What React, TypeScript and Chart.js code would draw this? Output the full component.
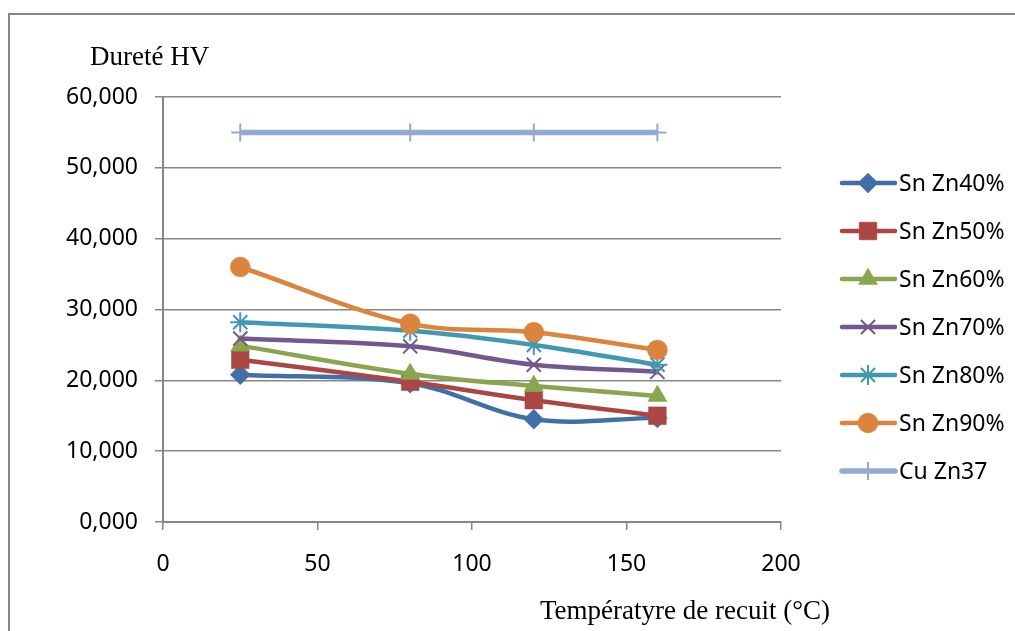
import React, { useEffect, useRef } from 'react';
import { Chart, registerables } from 'chart.js';
import { drawPoint } from 'chart.js/helpers';

Chart.register(...registerables);

// ---- Data ----
const temperatures = [25, 80, 120, 160];
const snZn40 = [20.8, 19.6, 14.5, 14.7];
const snZn50 = [22.9, 19.8, 17.2, 15.0];
const snZn60 = [24.9, 20.9, 19.2, 17.8];
const snZn70 = [25.9, 24.8, 22.2, 21.2];
const snZn80 = [28.2, 27.0, 25.0, 22.2];
const snZn90 = [36.0, 28.0, 26.8, 24.3];
const cuZn37 = [55, 55, 55, 55];

const seriesNames = ['Sn Zn40%', 'Sn Zn50%', 'Sn Zn60%', 'Sn Zn70%', 'Sn Zn80%', 'Sn Zn90%', 'Cu Zn37'];
const seriesValues = [snZn40, snZn50, snZn60, snZn70, snZn80, snZn90, cuZn37];

const xTicks = [0, 50, 100, 150, 200];
const xTickLabels = ['0', '50', '100', '150', '200'];
const yTicks = [0, 10, 20, 30, 40, 50, 60];
const yTickLabels = ['0,000', '10,000', '20,000', '30,000', '40,000', '50,000', '60,000'];

const yTitle = 'Dureté HV';
const xTitle = 'Températyre de recuit (°C)';

// ---- Styles ----
const colors = ['#4170A8', '#AA4643', '#89A54E', '#71588F', '#4198AF', '#DB843D', '#93AAD2'];
const pointStyles = ['rectRot', 'rect', 'triangle', 'crossRot', 'star', 'circle', 'cross'];
const pointRadii = [10, 12.5, 11, 10, 10, 10, 9];
const filled = [true, true, true, false, false, true, false];
const GRID = '#878787';
const TICK_FONT = '"Noto Sans", sans-serif';
const SERIF = '"Liberation Serif", "Times New Roman", serif';

const framePlugin = {
  id: 'frameAndTitles',
  beforeDraw(chart: any) {
    const ctx = chart.ctx;
    ctx.save();
    ctx.fillStyle = '#ffffff';
    ctx.fillRect(0, 0, chart.width, chart.height);
    ctx.strokeStyle = GRID;
    ctx.lineWidth = 2;
    ctx.beginPath();
    ctx.moveTo(9, chart.height + 5);
    ctx.lineTo(9, 14);
    ctx.lineTo(chart.width + 5, 14);
    ctx.stroke();
    ctx.restore();
  },
  afterDraw(chart: any) {
    const ctx = chart.ctx;
    ctx.save();
    ctx.fillStyle = '#000000';
    ctx.font = `27px ${SERIF}`;
    ctx.textBaseline = 'alphabetic';
    ctx.textAlign = 'left';
    ctx.fillText(yTitle, 90, 65);
    ctx.fillText(xTitle, 540, 619);

    // legend: line + marker + text
    chart.data.datasets.forEach((ds: any, i: number) => {
      const y = 183 + i * 48;
      ctx.save();
      ctx.strokeStyle = ds.borderColor;
      ctx.lineWidth = ds.borderWidth;
      ctx.lineCap = 'round';
      ctx.beginPath();
      ctx.moveTo(842, y);
      ctx.lineTo(895, y);
      ctx.stroke();
      ctx.fillStyle = ds.pointBackgroundColor;
      ctx.strokeStyle = ds.pointBorderColor;
      ctx.lineWidth = ds.pointBorderWidth;
      ctx.lineCap = 'butt';
      drawPoint(ctx, { pointStyle: ds.pointStyle, radius: ds.pointRadius, borderWidth: ds.pointBorderWidth, rotation: 0 } as any, 868, y);
      ctx.restore();
      ctx.fillStyle = '#000000';
      ctx.font = `23px ${TICK_FONT}`;
      ctx.textBaseline = 'middle';
      ctx.fillText(ds.label, 899, y + 1);
    });
    ctx.restore();
  },
};

export default function App() {
  const canvasRef = useRef<HTMLCanvasElement | null>(null);

  useEffect(() => {
    if (!canvasRef.current) return;
    const n = seriesNames.length;
    const datasets = seriesNames.map((name, i) => ({
      label: name,
      data: temperatures.map((t, j) => ({ x: t, y: seriesValues[i][j] })),
      borderColor: colors[i],
      backgroundColor: colors[i],
      borderWidth: i === 6 ? 5.5 : 4.5,
      pointStyle: pointStyles[i],
      pointRadius: pointRadii[i],
      pointBackgroundColor: filled[i] ? colors[i] : 'rgba(0,0,0,0)',
      pointBorderColor: colors[i],
      pointBorderWidth: filled[i] ? 0.5 : 2,
      tension: 0.35,
      order: n - i,
      fill: false,
    }));

    const chart = new Chart(canvasRef.current, {
      type: 'line',
      data: { datasets },
      plugins: [framePlugin],
      options: {
        animation: false,
        responsive: false,
        maintainAspectRatio: false,
        devicePixelRatio: 1,
        layout: { padding: { left: 0, top: 97, right: 234, bottom: 0 } },
        plugins: { legend: { display: false }, tooltip: { enabled: false }, title: { display: false } },
        scales: {
          x: {
            type: 'linear',
            min: 0,
            max: 200,
            afterBuildTicks: (scale: any) => {
              scale.ticks = xTicks.map((v) => ({ value: v }));
            },
            afterFit: (scale: any) => {
              scale.height = 631 - 522;
            },
            ticks: {
              callback: (v: any) => xTickLabels[xTicks.indexOf(Number(v))],
              color: '#000000',
              font: { family: TICK_FONT, size: 23 },
              padding: 21,
              maxRotation: 0,
              autoSkip: false,
            },
            grid: { drawOnChartArea: false, drawTicks: true, tickLength: 8, color: GRID, lineWidth: 1.5 },
            border: { color: GRID, width: 2 },
          },
          y: {
            type: 'linear',
            min: 0,
            max: 60,
            afterBuildTicks: (scale: any) => {
              scale.ticks = yTicks.map((v) => ({ value: v }));
            },
            afterFit: (scale: any) => {
              scale.width = 163;
            },
            ticks: {
              callback: (v: any) => yTickLabels[yTicks.indexOf(Number(v))],
              color: '#000000',
              font: { family: TICK_FONT, size: 23 },
              padding: 17,
              autoSkip: false,
            },
            grid: { drawTicks: true, tickLength: 8, color: GRID, lineWidth: 1.5 },
            border: { color: GRID, width: 2 },
          },
        },
      } as any,
    });
    return () => chart.destroy();
  }, []);

  return (
    <div style={{ position: 'absolute', left: 0, top: 0, width: 1015, height: 631, overflow: 'hidden', background: '#fff' }}>
      <canvas ref={canvasRef} width={1015} height={631} style={{ display: 'block' }} />
    </div>
  );
}
